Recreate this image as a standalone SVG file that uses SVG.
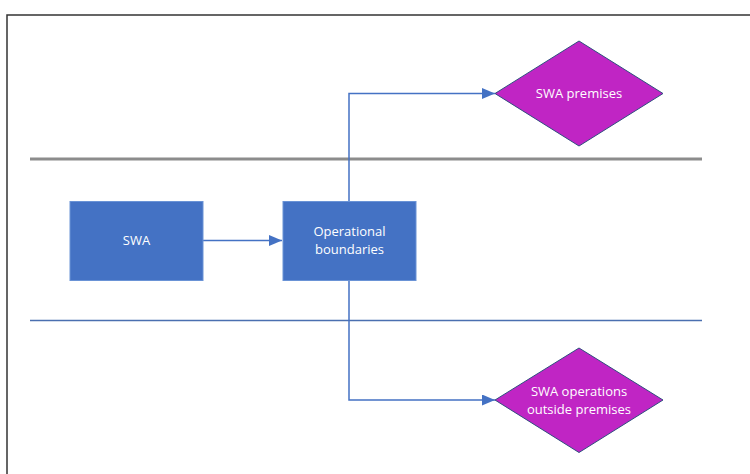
<svg xmlns="http://www.w3.org/2000/svg" width="750" height="474" viewBox="0 0 750 474">
<defs>
<marker id="ah" markerWidth="13" markerHeight="11" refX="13" refY="5.5" orient="auto" markerUnits="userSpaceOnUse" viewBox="0 0 13 11">
<path d="M0,0 L13,5.5 L0,11 z" fill="#4472C4"/>
</marker>
</defs>
<style>
.box{fill:#4472C4;stroke:#6A93D6;stroke-width:1}
.dia{fill:#C025C4;stroke:#2F4F7F;stroke-width:1}
.lbl{font-family:"Open Sans","Noto Sans",sans-serif;font-size:13px;fill:#FFFFFF;text-anchor:middle}
.conn{fill:none;stroke:#4472C4;stroke-width:1.5}
</style>
<rect x="0" y="0" width="750" height="474" fill="#FFFFFF"/>
<path d="M7,474 L7,15 L750,15" fill="none" stroke="#333333" stroke-width="1.5"/>
<g id="lanes">
<line x1="30" y1="159" x2="702" y2="159" stroke="#8C8C8C" stroke-width="3"/>
<line x1="30" y1="320.5" x2="702" y2="320.5" stroke="#4A6FB0" stroke-width="1.5"/>
</g>
<g id="connectors">
<path class="conn" d="M203,240.5 L282,240.5" marker-end="url(#ah)"/>
<path class="conn" d="M349,201 L349,93.5 L495,93.5" marker-end="url(#ah)"/>
<path class="conn" d="M349,281 L349,400 L495,400" marker-end="url(#ah)"/>
</g>
<g id="swa">
<rect class="box" x="70" y="201.5" width="133" height="79"/>
<text class="lbl" x="136.5" y="245">SWA</text>
</g>
<g id="operational-boundaries">
<rect class="box" x="283" y="201.5" width="133" height="79"/>
<text class="lbl" x="349.5" y="236">Operational</text>
<text class="lbl" x="349.5" y="254">boundaries</text>
</g>
<g id="swa-premises">
<polygon class="dia" points="579,41 663,93.5 579,146 495,93.5"/>
<text class="lbl" x="579" y="98">SWA premises</text>
</g>
<g id="swa-operations-outside">
<polygon class="dia" points="579,348 663,400 579,452.5 495,400"/>
<text class="lbl" x="579" y="396">SWA operations</text>
<text class="lbl" x="579" y="414">outside premises</text>
</g>
</svg>
